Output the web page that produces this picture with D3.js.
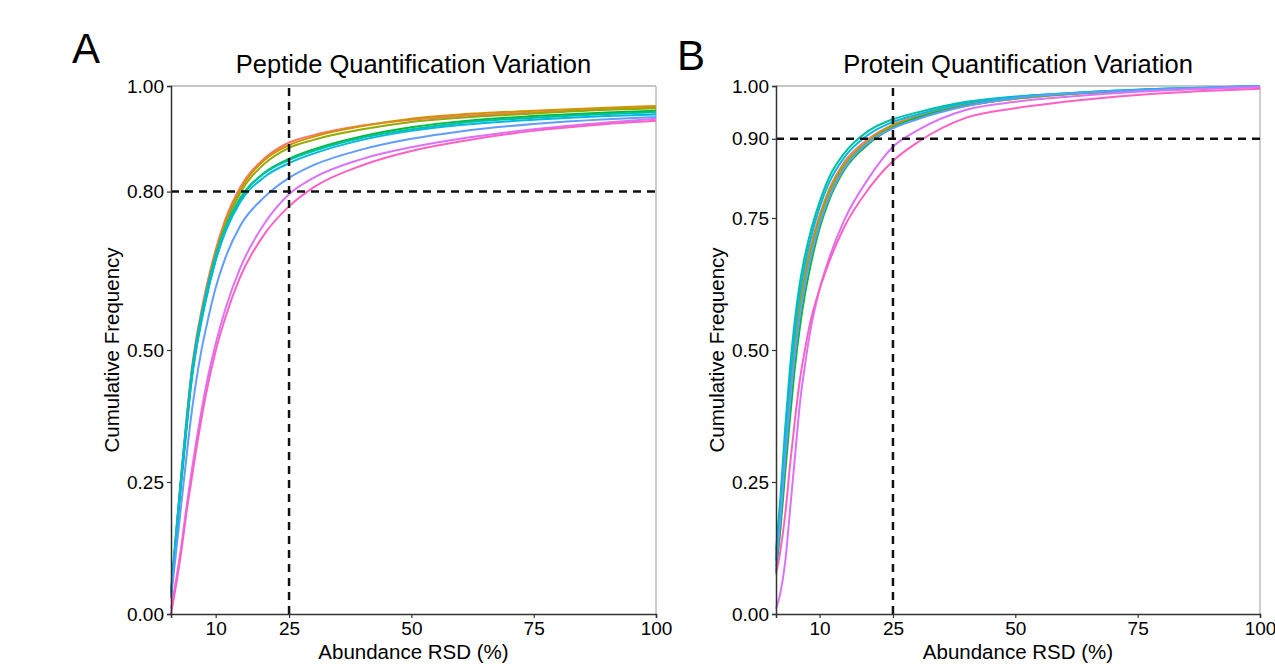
<!DOCTYPE html>
<html><head><meta charset="utf-8">
<script src="https://cdnjs.cloudflare.com/ajax/libs/d3/7.8.5/d3.min.js"></script>
<style>
body{margin:0;background:#fff;}
text{font-family:"Liberation Sans",Arial,sans-serif;fill:#000;}
</style></head>
<body><svg id="c" width="1275" height="664"></svg>
<script>
// ---- data ----
const seriesColors = ["#F8766D","#D39200","#93AA00","#00BA38","#00C19F","#00B9E3","#619CFF","#DB72FB","#FF61C3"];

// Panel A: Peptide (x = abundance RSD %, y = cumulative frequency)
const rsdA = [0.87, 2, 3, 4, 5, 6, 7, 8, 10, 12, 15, 20, 25, 30, 40, 50, 60, 75, 90, 100];
const pep1 = [0.03,0.16,0.265,0.365,0.455,0.52,0.57,0.615,0.69,0.748,0.808,0.863,0.893,0.907,0.925,0.936,0.943,0.95,0.956,0.959];
const pep2 = [0.035,0.155,0.26,0.355,0.445,0.51,0.56,0.605,0.683,0.742,0.803,0.86,0.888,0.904,0.924,0.938,0.946,0.953,0.959,0.962];
const pep3 = [0.035,0.16,0.262,0.358,0.448,0.512,0.562,0.607,0.682,0.738,0.797,0.853,0.883,0.898,0.918,0.932,0.94,0.948,0.955,0.958];
const pep4 = [0.035,0.15,0.25,0.345,0.435,0.5,0.55,0.595,0.67,0.727,0.785,0.836,0.862,0.88,0.905,0.922,0.933,0.943,0.95,0.953];
const pep5 = [0.045,0.165,0.268,0.362,0.45,0.513,0.562,0.605,0.678,0.732,0.788,0.835,0.86,0.877,0.902,0.918,0.93,0.94,0.947,0.95];
const pep6 = [0.04,0.155,0.258,0.352,0.44,0.503,0.552,0.596,0.67,0.724,0.78,0.828,0.854,0.872,0.898,0.915,0.926,0.936,0.943,0.946];
const pep7 = [0.03,0.125,0.21,0.295,0.375,0.44,0.495,0.54,0.618,0.675,0.735,0.79,0.826,0.85,0.88,0.9,0.914,0.928,0.937,0.941];
const pep8 = [0.01,0.07,0.13,0.2,0.265,0.325,0.38,0.43,0.512,0.578,0.655,0.74,0.795,0.826,0.862,0.884,0.9,0.918,0.931,0.938];
const pep9 = [0.0,0.06,0.12,0.19,0.25,0.31,0.365,0.415,0.498,0.562,0.638,0.72,0.772,0.808,0.85,0.877,0.895,0.915,0.928,0.934];

// Panel B: Protein
const rsdB = [1.1, 2, 3, 4, 5, 6, 7, 8, 10, 12, 15, 20, 25, 30, 40, 50, 60, 75, 90, 100];
const pro1 = [0.11,0.2,0.33,0.44,0.53,0.6,0.65,0.69,0.755,0.805,0.855,0.9,0.927,0.943,0.965,0.977,0.985,0.992,0.996,0.999];
const pro2 = [0.1,0.19,0.315,0.425,0.515,0.585,0.638,0.68,0.748,0.798,0.848,0.895,0.924,0.94,0.963,0.976,0.984,0.991,0.996,0.999];
const pro3 = [0.1,0.19,0.31,0.42,0.512,0.583,0.637,0.68,0.748,0.8,0.85,0.896,0.925,0.94,0.963,0.976,0.984,0.991,0.996,0.999];
const pro4 = [0.08,0.16,0.27,0.375,0.47,0.545,0.605,0.653,0.73,0.785,0.84,0.89,0.921,0.94,0.963,0.977,0.985,0.992,0.996,0.999];
const pro5 = [0.12,0.22,0.355,0.47,0.56,0.628,0.678,0.718,0.78,0.828,0.872,0.915,0.937,0.95,0.97,0.98,0.986,0.993,0.997,1.0];
const pro6 = [0.1,0.2,0.335,0.45,0.54,0.61,0.662,0.704,0.77,0.818,0.864,0.908,0.932,0.946,0.968,0.979,0.986,0.993,0.997,1.0];
const pro7 = [0.09,0.18,0.3,0.405,0.495,0.567,0.622,0.667,0.738,0.79,0.843,0.893,0.92,0.937,0.962,0.977,0.985,0.992,0.997,1.0];
const pro8 = [0.01,0.04,0.1,0.2,0.3,0.4,0.47,0.53,0.615,0.675,0.745,0.825,0.885,0.916,0.955,0.97,0.979,0.989,0.995,0.998];
const pro9 = [0.075,0.12,0.19,0.285,0.37,0.445,0.5,0.548,0.615,0.668,0.732,0.805,0.858,0.893,0.94,0.958,0.97,0.983,0.991,0.995];

const xTicks = [10, 25, 50, 75, 100];
const yTicksA = [0, 0.25, 0.5, 0.8, 1];
const yTicksB = [0, 0.25, 0.5, 0.75, 0.9, 1];
const refA = {x: 25, y: 0.8};
const refB = {x: 25, y: 0.9};

// ---- drawing ----
const svg = d3.select("#c");
const FONT = "'Liberation Sans', Arial, sans-serif";

function panel(opts){
  const {left, right, top, bottom, xMin, rsd, series, yTicks, ref, title, letter, letterX, letterY} = opts;
  const x = d3.scaleLinear().domain([xMin, 100]).range([left, right]);
  const y = d3.scaleLinear().domain([0, 1]).range([bottom, top]);
  const g = svg.append("g");

  // top & right borders (light grey)
  g.append("line").attr("x1", left).attr("x2", right).attr("y1", top).attr("y2", top)
    .attr("stroke", "#b3b3b3").attr("stroke-width", 1.3);
  g.append("line").attr("x1", right).attr("x2", right).attr("y1", top).attr("y2", bottom)
    .attr("stroke", "#b3b3b3").attr("stroke-width", 1.3);

  // curves
  const line = d3.line().x(d => x(d[0])).y(d => y(d[1])).curve(d3.curveMonotoneX);
  series.forEach((vals, i) => {
    const pts = rsd.map((r, j) => [r, vals[j]]);
    g.append("path").attr("d", line(pts)).attr("fill", "none")
      .attr("stroke", seriesColors[i]).attr("stroke-width", 2).attr("stroke-linejoin", "round");
  });

  // reference dashed lines
  g.append("line").attr("x1", x(ref.x)).attr("x2", x(ref.x)).attr("y1", y(0)).attr("y2", y(1))
    .attr("stroke", "#111").attr("stroke-width", 2.5).attr("stroke-dasharray", "8,6");
  g.append("line").attr("x1", left).attr("x2", right).attr("y1", y(ref.y)).attr("y2", y(ref.y))
    .attr("stroke", "#111").attr("stroke-width", 2.5).attr("stroke-dasharray", "8,6");

  // axes
  const xAxis = d3.axisBottom(x).tickValues(xTicks).tickSize(4).tickPadding(4).tickFormat(d3.format("d"));
  const gx = g.append("g").attr("transform", `translate(0,${bottom})`).call(xAxis);
  gx.select(".domain").attr("stroke", "#333").attr("stroke-width", 1.5);
  gx.selectAll(".tick line").attr("stroke", "#333").attr("stroke-width", 1.2);
  gx.selectAll(".tick text").attr("font-size", 19).attr("fill", "#000").attr("font-family", FONT);

  const yAxis = d3.axisLeft(y).tickValues(yTicks).tickSize(4).tickPadding(3).tickFormat(d3.format(".2f"));
  const gy = g.append("g").attr("transform", `translate(${left},0)`).call(yAxis);
  gy.select(".domain").attr("stroke", "#333").attr("stroke-width", 1.5);
  gy.selectAll(".tick line").attr("stroke", "#333").attr("stroke-width", 1.2);
  gy.selectAll(".tick text").attr("font-size", 19).attr("fill", "#000").attr("font-family", FONT);

  // titles
  const cx = (left + right) / 2;
  g.append("text").attr("x", cx).attr("y", 73).attr("text-anchor", "middle")
    .attr("font-size", 25.5).text(title);
  g.append("text").attr("x", cx).attr("y", 659).attr("text-anchor", "middle")
    .attr("font-size", 20.5).text("Abundance RSD (%)");
  g.append("text").attr("transform", `translate(${left - 52},${(top + bottom) / 2}) rotate(-90)`)
    .attr("text-anchor", "middle").attr("font-size", 20.5).text("Cumulative Frequency");
  g.append("text").attr("x", letterX).attr("y", letterY).attr("font-size", 42).text(letter);
}

panel({left: 171, right: 656, top: 86, bottom: 614, xMin: 0.87, rsd: rsdA,
  series: [pep1,pep2,pep3,pep4,pep5,pep6,pep7,pep8,pep9], yTicks: yTicksA, ref: refA,
  title: "Peptide Quantification Variation", letter: "A", letterX: 72, letterY: 63});
panel({left: 776, right: 1260, top: 86, bottom: 614, xMin: 1.1, rsd: rsdB,
  series: [pro1,pro2,pro3,pro4,pro5,pro6,pro7,pro8,pro9], yTicks: yTicksB, ref: refB,
  title: "Protein Quantification Variation", letter: "B", letterX: 677, letterY: 70});
</script></body></html>
